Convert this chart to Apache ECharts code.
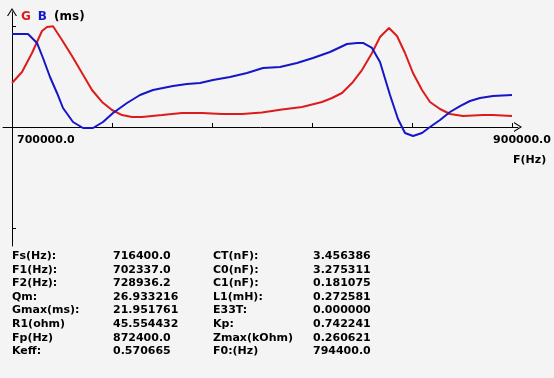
<!DOCTYPE html>
<html>
<head>
<meta charset="utf-8">
<script src="https://cdn.jsdelivr.net/npm/echarts@6/dist/echarts.min.js"></script>
<style>
  html, body { margin: 0; padding: 0; background: #f4f4f4; }
  #chart { width: 554px; height: 378px; }
</style>
</head>
<body>
<div id="chart"></div>
<script>
// G (conductance) curve, ms
const freqG = [700000, 704000, 708000, 712000, 714000, 716400, 720000, 724000, 728000, 732000,
  736000, 740000, 744000, 748000, 752000, 756000, 760000, 768000, 776000, 784000,
  792000, 800000, 808000, 816000, 824000, 828000, 832000, 836000, 840000, 844000,
  847200, 850800, 854000, 857200, 860400, 864000, 867200, 871200, 875200, 880400,
  888400, 892400, 900000]
const valG = [9.58, 11.98, 16.12, 20.91, 21.78, 21.95, 18.95, 15.46, 11.76, 8.06,
  5.45, 3.70, 2.61, 2.18, 2.18, 2.40, 2.61, 3.05, 3.05, 2.83,
  2.83, 3.16, 3.81, 4.36, 5.45, 6.32, 7.41, 9.58, 12.41, 16.12,
  19.60, 21.56, 19.82, 16.12, 11.76, 8.06, 5.45, 3.92, 2.83, 2.40,
  2.61, 2.61, 2.40]

// B (susceptance) curve, ms
const freqB = [700000, 706400, 710000, 712400, 715200, 718000, 720400, 724400, 728400, 732400,
  736400, 740400, 746000, 751200, 756400, 764400, 770000, 775200, 780400, 787200,
  794000, 800400, 807200, 814000, 820400, 827200, 834000, 838000, 840400, 844000,
  847200, 851200, 854400, 857200, 860400, 864000, 867200, 871200, 875200, 879200,
  883200, 887200, 892400, 900000]
const valB = [20.26, 20.26, 18.30, 15.03, 10.89, 7.41, 4.14, 1.09, -0.22, -0.22,
  1.09, 3.05, 5.23, 6.97, 8.06, 8.93, 9.37, 9.58, 10.24, 10.89,
  11.76, 12.85, 13.07, 13.94, 15.03, 16.34, 18.08, 18.30, 18.30, 17.21,
  14.16, 6.97, 1.74, -1.31, -1.96, -1.31, 0.00, 1.52, 3.27, 4.57,
  5.66, 6.32, 6.75, 6.97]

const xTicks = [740000, 780000, 820000, 860000, 900000]
const xLabels = [700000, 900000]
const yTicks = [-22, 22]

const paramNamesA = ['Fs(Hz):', 'F1(Hz):', 'F2(Hz):', 'Qm:', 'Gmax(ms):', 'R1(ohm)', 'Fp(Hz)', 'Keff:']
const paramValuesA = ['716400.0', '702337.0', '728936.2', '26.933216', '21.951761', '45.554432', '872400.0', '0.570665']
const paramNamesB = ['CT(nF):', 'C0(nF):', 'C1(nF):', 'L1(mH):', 'E33T:', 'Kp:', 'Zmax(kOhm)', 'F0:(Hz)']
const paramValuesB = ['3.456386', '3.275311', '0.181075', '0.272581', '0.000000', '0.742241', '0.260621', '794400.0']

const FONT = 'DejaVu Sans'
const RED = '#dc1c1c'
const BLUE = '#1616c8'
// open chevron, pointing up before the axis rotates it
const CHEVRON = 'path://M5,0 L10,8 L8.8,8 L5,1.9 L1.2,8 L0,8 Z'

const chart = echarts.init(document.getElementById('chart'))

function textEl(x, y, text, align) {
  return {
    type: 'text',
    x,
    y,
    style: {
      text,
      font: 'bold 11px "' + FONT + '"',
      fill: '#000',
      align: align || 'left',
      verticalAlign: 'middle'
    }
  }
}

chart.setOption({
  animation: false,
  backgroundColor: '#f4f4f4',
  title: {
    text: '{g|G} {b|B} {k|(ms)}',
    left: 16,
    top: 3,
    textStyle: {
      rich: {
        g: { color: RED, fontFamily: FONT, fontWeight: 'bold', fontSize: 12 },
        b: { color: BLUE, fontFamily: FONT, fontWeight: 'bold', fontSize: 12, padding: [0, 0, 0, 2] },
        k: { color: '#000', fontFamily: FONT, fontWeight: 'bold', fontSize: 12, padding: [0, 0, 0, 2] }
      }
    }
  },
  grid: { left: 3, right: 36, top: 12, bottom: 132, outerBoundsMode: 'none' },
  xAxis: {
    type: 'value',
    min: 696400,
    max: 902400,
    axisLine: {
      onZero: true,
      lineStyle: { color: '#000', width: 1 },
      symbol: ['none', CHEVRON],
      symbolSize: [10, 8]
    },
    axisTick: { show: true, inside: true, length: 4, customValues: xTicks, lineStyle: { color: '#000' } },
    axisLabel: { show: false },
    splitLine: { show: false }
  },
  yAxis: {
    type: 'value',
    min: -25.92,
    max: 25.05,
    offset: -9,
    axisLine: {
      show: true,
      onZero: false,
      lineStyle: { color: '#000', width: 1 },
      symbol: ['none', CHEVRON],
      symbolSize: [10, 8]
    },
    axisTick: { show: true, inside: true, length: 4, customValues: yTicks, lineStyle: { color: '#000' } },
    axisLabel: { show: false },
    splitLine: { show: false }
  },
  series: [
    {
      name: 'G',
      type: 'line',
      data: freqG.map((f, i) => [f, valG[i]]),
      showSymbol: false,
      lineStyle: { color: RED, width: 2 },
      itemStyle: { color: RED }
    },
    {
      name: 'B',
      type: 'line',
      data: freqB.map((f, i) => [f, valB[i]]),
      showSymbol: false,
      lineStyle: { color: BLUE, width: 2 },
      itemStyle: { color: BLUE }
    }
  ]
})

// frequency labels hang under the zero line, first one left of its tick, last one past the end
const els = []
xLabels.forEach((f, i) => {
  const p = chart.convertToPixel({ xAxisIndex: 0, yAxisIndex: 0 }, [f, 0])
  if (i === 0) els.push(textEl(p[0] + 5, p[1] + 13.5, f.toFixed(1)))
  else els.push(textEl(p[0] + 10, p[1] + 13.5, f.toFixed(1), 'center'))
})
const pEnd = chart.convertToPixel({ xAxisIndex: 0, yAxisIndex: 0 }, [900000, 0])
els.push(textEl(pEnd[0] + 1, pEnd[1] + 33, 'F(Hz)'))

const colX = [12, 113, 213, 313]
paramNamesA.forEach((name, i) => {
  const y = 256 + i * 13.65
  els.push(textEl(colX[0], y, name))
  els.push(textEl(colX[1], y, paramValuesA[i]))
  els.push(textEl(colX[2], y, paramNamesB[i]))
  els.push(textEl(colX[3], y, paramValuesB[i]))
})

chart.setOption({ graphic: els })
</script>
</body>
</html>
